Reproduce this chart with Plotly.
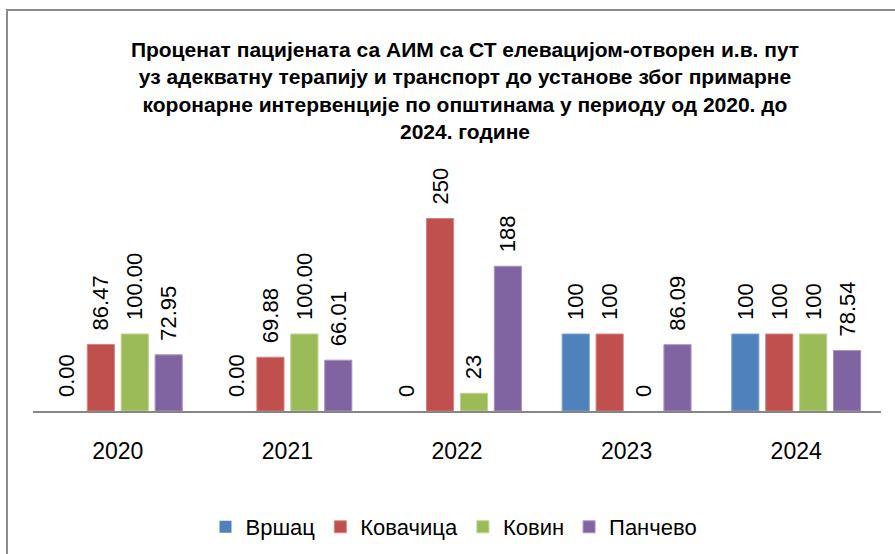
import plotly.graph_objects as go

# Years on the category axis
years = ["2020", "2021", "2022", "2023", "2024"]

# Percentage per municipality and year
vrsac = [0.00, 0.00, 0, 100, 100]
kovacica = [86.47, 69.88, 250, 100, 100]
kovin = [100.00, 100.00, 23, 0, 100]
pancevo = [72.95, 66.01, 188, 86.09, 78.54]

# Value labels as they are printed above the bars
vrsac_lbl = ["0.00", "0.00", "0", "100", "100"]
kovacica_lbl = ["86.47", "69.88", "250", "100", "100"]
kovin_lbl = ["100.00", "100.00", "23", "0", "100"]
pancevo_lbl = ["72.95", "66.01", "188", "86.09", "78.54"]

series = [
    ("Вршац", vrsac, vrsac_lbl, "#4F81BD", "#7FA3CF"),
    ("Ковачица", kovacica, kovacica_lbl, "#C0504D", "#D48583"),
    ("Ковин", kovin, kovin_lbl, "#9BBB59", "#BCD38E"),
    ("Панчево", pancevo, pancevo_lbl, "#8064A2", "#A893C0"),
]

W, H = 895, 554
ML, MR, MT, MB = 33, 14, 180, 143
PW = W - ML - MR
PH = H - MT - MB

FONT = "Liberation Sans, Arial, sans-serif"

fig = go.Figure()
for name, vals, lbls, color, edge in series:
    fig.add_trace(go.Bar(
        name=name,
        x=years,
        y=vals,
        text=["\u2002" + t for t in lbls],
        textposition="outside",
        textangle=-90,
        constraintext="none",
        cliponaxis=False,
        textfont=dict(family=FONT, size=22, color="#000000"),
        marker=dict(
            color=color,
            line=dict(color=edge, width=[0 if v == 0 else 1 for v in vals]),
        ),
        hoverinfo="x+y+name",
    ))


def px_x(p):
    return (p - ML) / PW


def px_y(p):
    return (H - MB - p) / PH


fig.update_layout(
    width=W,
    height=H,
    margin=dict(l=ML, r=MR, t=MT, b=MB, autoexpand=False),
    paper_bgcolor="white",
    plot_bgcolor="white",
    barmode="group",
    bargap=0.2,
    bargroupgap=0.2,
    title=dict(
        text="Проценат пацијената са АИМ са СТ елевацијом-отворен и.в. пут<br>"
             "уз адекватну терапију и транспорт до установе због примарне<br>"
             "коронарне интервенције по општинама у периоду од 2020. до<br>"
             "2024. године",
        x=465 / W,
        xanchor="center",
        y=1 - 57 / H,
        yanchor="top",
        font=dict(family=FONT, size=21, color="#000000", weight="bold"),
    ),
    xaxis=dict(
        showline=True,
        linecolor="#868686",
        linewidth=2,
        ticks="",
        showgrid=False,
        ticklabelstandoff=18,
        tickfont=dict(family=FONT, size=23, color="#000000"),
    ),
    yaxis=dict(
        range=[0, 300],
        visible=False,
        showgrid=False,
        zeroline=False,
    ),
    legend=dict(
        orientation="h",
        x=px_x(454),
        xanchor="center",
        y=px_y(527),
        yanchor="middle",
        font=dict(family=FONT, size=22, color="#000000"),
        itemclick=False,
    ),
    showlegend=True,
    shapes=[
        dict(
            type="rect",
            xref="paper", yref="paper",
            x0=px_x(7), x1=px_x(905),
            y0=px_y(565), y1=px_y(10),
            line=dict(color="#8C8C8C", width=2),
            fillcolor="rgba(0,0,0,0)",
            layer="below",
        )
    ],
)

fig.write_html("out.html")
